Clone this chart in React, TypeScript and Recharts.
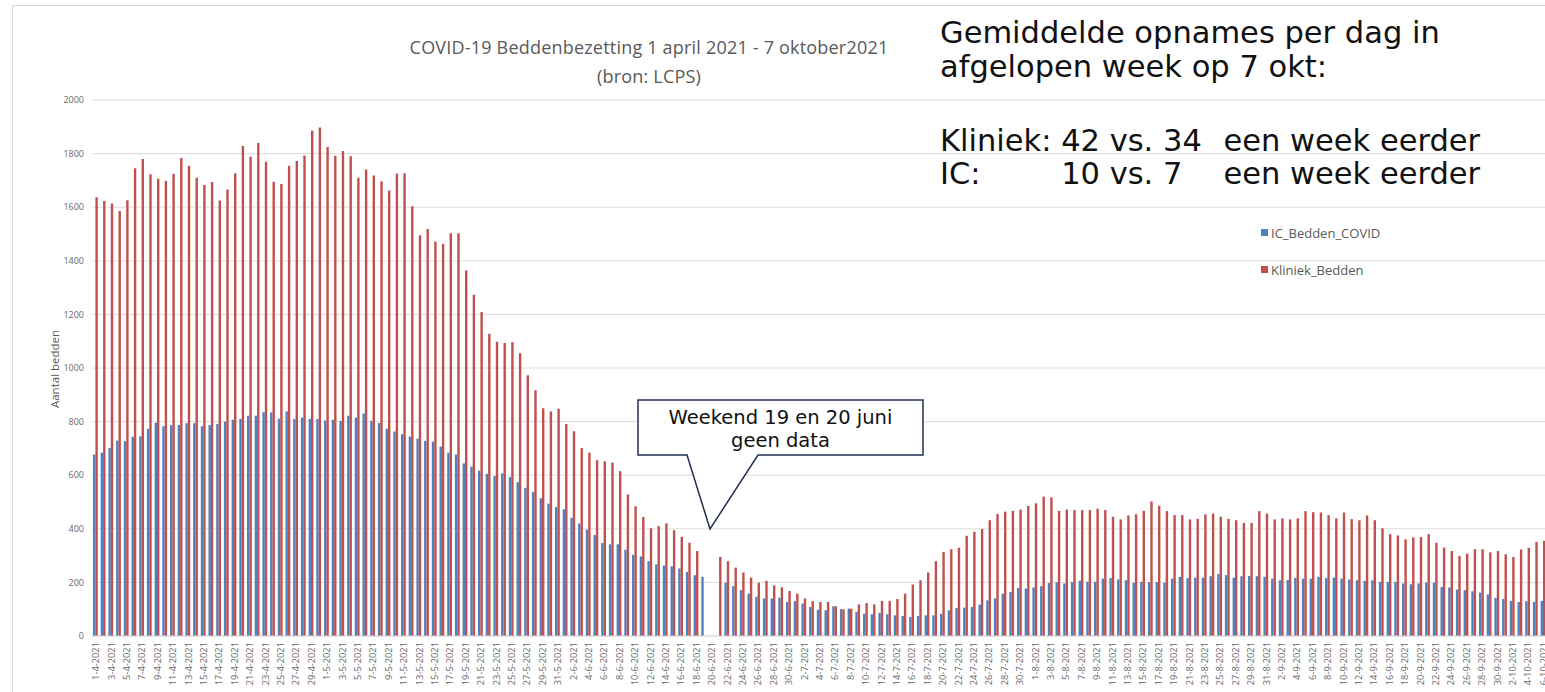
import React from 'react';
import { BarChart, Bar, XAxis, YAxis, CartesianGrid, Legend } from 'recharts';

// Months covered (month number, number of days shown)
const monthSpans: [number, number][] = [
  [4, 30], [5, 31], [6, 30], [7, 31], [8, 31], [9, 30], [10, 7],
];

const categories: string[] = monthSpans.flatMap(([m, n]) =>
  Array.from({ length: n }, (_, i) => `${i + 1}-${m}-2021`)
);

// IC_Bedden_COVID (blue), 1-4-2021 .. 7-10-2021
const icBedden: (number | null)[] = [
  677, 684, 701, 729, 727, 743, 745, 773, 796, 783, 787, 787, 794, 794, 783, 787, 791, 800, 807, 810,
  822, 822, 835, 834, 811, 838, 810, 815, 810, 810, 804, 807, 802, 822, 815, 830, 803, 795,
  773, 763, 753, 744, 736, 728, 725, 707, 684, 677, 644, 632, 617, 605, 597, 607, 593, 574, 553, 537,
  514, 494, 481, 473, 441, 420, 397, 377, 347, 342, 342, 322, 303, 297, 279, 267, 263, 260,
  252, 239, 227, 221, null, null,
  199, 186, 171, 158, 146, 140, 140, 143, 127, 130, 121, 108, 98, 96, 111, 100, 102, 90, 83, 81,
  86, 81, 77, 75, 71, 75, 77, 77, 83, 96, 105, 106,
  108, 117, 133, 140, 158, 164, 179, 177, 181, 186, 198, 201, 196, 201, 206, 202, 202, 214, 216, 211,
  208, 198, 202, 201, 201, 199, 214, 221, 216, 218, 218, 223, 231, 227, 218, 223, 224, 223, 221,
  214, 208, 209, 217, 214, 214, 221, 216, 218, 214, 211, 208, 206, 208, 202, 202, 202, 196, 193, 196,
  199, 199, 183, 181, 173, 171, 167, 162, 155, 142, 138, 131, 127, 130, 127, 131,
  128,
];

// Kliniek_Bedden (red)
const kliniekBedden: (number | null)[] = [
  1637, 1623, 1614, 1586, 1626, 1745, 1780, 1723, 1706, 1698, 1725, 1784, 1755, 1710, 1683, 1694, 1625, 1666, 1727, 1828,
  1788, 1840, 1770, 1695, 1687, 1755, 1772, 1793, 1886, 1897, 1825, 1792, 1810, 1790, 1710, 1741, 1718, 1697,
  1662, 1726, 1727, 1604, 1495, 1519, 1472, 1463, 1503, 1503, 1364, 1273, 1209, 1128, 1098, 1093, 1096, 1055, 973, 917,
  850, 838, 848, 791, 764, 701, 684, 656, 652, 647, 615, 528, 484, 444, 402, 410, 420, 395,
  370, 348, 317, null, null, 295,
  279, 255, 237, 218, 199, 206, 189, 182, 168, 158, 140, 130, 127, 127, 111, 100, 102, 118, 123, 118,
  131, 131, 138, 158, 192, 208, 237, 279, 314, 324, 329, 374,
  389, 399, 432, 455, 464, 467, 472, 485, 495, 520, 517, 467, 472, 470, 470, 470, 475, 470, 445, 435,
  450, 454, 467, 502, 486, 466, 451, 451, 435, 437, 454, 457, 445, 437, 432, 422, 422, 466, 457,
  435, 439, 435, 439, 466, 462, 461, 451, 439, 461, 436, 432, 450, 432, 402, 380, 375, 361, 368, 369,
  380, 348, 330, 317, 299, 307, 324, 324, 312, 317, 305, 295, 323, 329, 351,
  355, 360,
];

const yTicks = [0, 200, 400, 600, 800, 1000, 1200, 1400, 1600, 1800, 2000];

const seriesNames = ['IC_Bedden_COVID', 'Kliniek_Bedden'];
const seriesColors = ['#4f81bd', '#c0504d'];

const data = categories.map((c, i) => ({
  date: c,
  ic: icBedden[i] ?? null,
  kliniek: kliniekBedden[i] ?? null,
}));

const XTick = (props: any) => {
  const { x, y, payload } = props;
  return (
    <g transform={`translate(${x},${y})`}>
      <text
        transform="rotate(-90)"
        textAnchor="end"
        dy="0.35em"
        fontSize={9.3}
        fill="#666"
        fontFamily="'Open Sans'"
      >
        {payload.value}
      </text>
    </g>
  );
};

const LegendContent = () => (
  <div style={{ fontFamily: "'Open Sans'", fontSize: 13, color: '#595959' }}>
    {seriesNames.map((n, i) => (
      <div key={n} style={{ display: 'flex', alignItems: 'center', height: 37 }}>
        <span style={{ width: 7, height: 7, background: seriesColors[i], display: 'inline-block', marginRight: 3 }} />
        <span>{n}</span>
      </div>
    ))}
  </div>
);

const bigFont: React.CSSProperties = {
  fontFamily: "'DejaVu Sans'",
  fontSize: 30.5,
  color: '#111',
  whiteSpace: 'pre',
  position: 'absolute',
};

export default function App() {
  return (
    <div
      style={{
        position: 'absolute',
        left: 0,
        top: 0,
        width: 1545,
        height: 692,
        overflow: 'hidden',
        background: '#fff',
        fontFamily: "'Open Sans'",
      }}
    >
      <div
        style={{
          position: 'absolute',
          left: 12,
          top: 5,
          width: 1600,
          height: 800,
          borderLeft: '1px solid #d9d9d9',
          borderTop: '1px solid #d9d9d9',
        }}
      />
      <div style={{ position: 'absolute', left: 0, top: 0 }}>
        <BarChart
          width={1600}
          height={692}
          data={data}
          margin={{ top: 100, right: 45, bottom: 0, left: 12 }}
          barGap={0}
          barSize={2.4}
        >
          <CartesianGrid vertical={false} stroke="#dcdcdc" />
          <XAxis
            dataKey="date"
            interval={1}
            tick={<XTick />}
            tickLine={false}
            tickMargin={0}
            axisLine={{ stroke: '#d9d9d9' }}
            height={56}
          />
          <YAxis
            domain={[0, 2000]}
            ticks={yTicks}
            axisLine={false}
            tickLine={false}
            width={80}
            tick={{ fontSize: 9, fill: '#666', fontFamily: "'Open Sans'" }}
          />
          <Legend
            layout="vertical"
            align="center"
            verticalAlign="middle"
            content={<LegendContent />}
            wrapperStyle={{ left: 1261, top: 214, width: 200, height: 74 }}
          />
          <Bar dataKey="ic" name={seriesNames[0]} fill={seriesColors[0]} isAnimationActive={false} />
          <Bar dataKey="kliniek" name={seriesNames[1]} fill={seriesColors[1]} isAnimationActive={false} />
        </BarChart>
      </div>

      <svg
        width={1545}
        height={692}
        style={{ position: 'absolute', left: 0, top: 0, pointerEvents: 'none' }}
      >
        <text x={649} y={54} textAnchor="middle" fontFamily="'Open Sans'" fontSize={18} letterSpacing={0.2} fill="#595959">
          COVID-19 Beddenbezetting 1 april 2021 - 7 oktober2021
        </text>
        <text x={649} y={83} textAnchor="middle" fontFamily="'Open Sans'" fontSize={18} letterSpacing={0.2} fill="#595959">
          (bron: LCPS)
        </text>
        <text
          transform="translate(59,369) rotate(-90)"
          textAnchor="middle"
          fontFamily="'Open Sans'"
          fontSize={11.5}
          fill="#595959"
        >
          Aantal bedden
        </text>
        <path
          d="M638,400 H923 V455 H758 L710,529 L687,455 H638 Z"
          fill="#fff"
          stroke="#1f3050"
          strokeWidth={1.5}
        />
        <text x={780.5} y={424} textAnchor="middle" fontFamily="'DejaVu Sans'" fontSize={19.5} fill="#111">
          Weekend 19 en 20 juni
        </text>
        <text x={780.5} y={447} textAnchor="middle" fontFamily="'DejaVu Sans'" fontSize={19.5} fill="#111">
          geen data
        </text>
      </svg>

      <div style={{ ...bigFont, left: 940, top: 15.5, lineHeight: '34px' }}>Gemiddelde opnames per dag in</div>
      <div style={{ ...bigFont, left: 940, top: 49.5, lineHeight: '34px' }}>afgelopen week op 7 okt:</div>
      <div
        style={{
          ...bigFont,
          left: 940,
          top: 124,
          lineHeight: '33px',
          display: 'grid',
          gridTemplateColumns: 'auto auto auto',
          columnGap: '0.318em',
        }}
      >
        <span>Kliniek:</span>
        <span>42 vs. 34</span>
        <span style={{ paddingLeft: 12 }}>een week eerder</span>
        <span>IC:</span>
        <span>10 vs. 7</span>
        <span style={{ paddingLeft: 12 }}>een week eerder</span>
      </div>
    </div>
  );
}
